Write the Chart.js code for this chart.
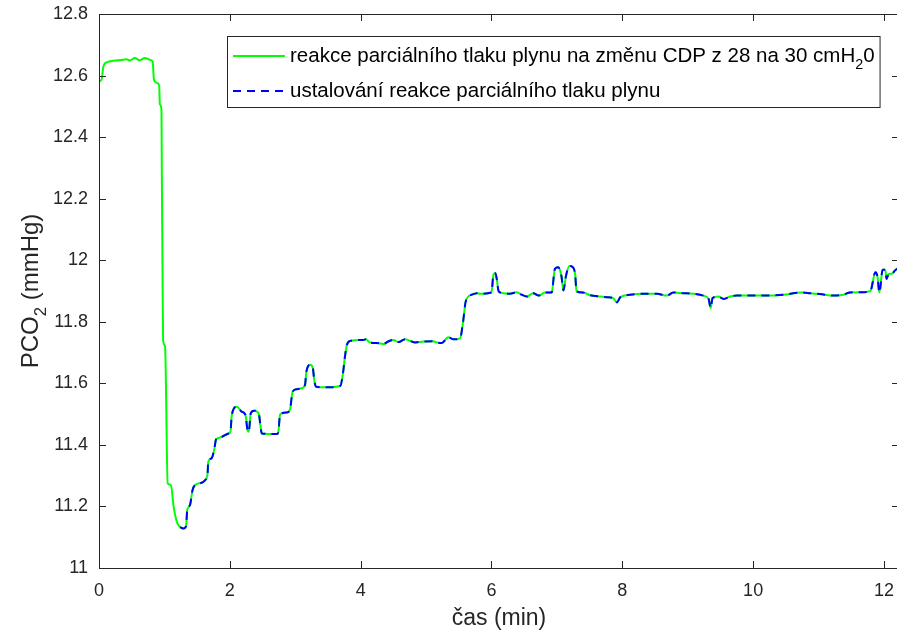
<!DOCTYPE html>
<html lang="cs">
<head>
<meta charset="UTF-8">
<title>PCO2 – reakce na změnu CDP</title>
<script src="https://cdn.jsdelivr.net/npm/chart.js"></script>
<style>
  html, body { margin: 0; padding: 0; background: #fff; overflow: hidden; }
  canvas { display: block; }
</style>
</head>
<body>
<canvas id="pco2Chart" width="900" height="632"></canvas>
<script>
// time (min)
const casMin = [
  0, 0.04, 0.07, 0.12, 0.22, 0.37, 0.42, 0.47, 0.55, 0.62,
  0.70, 0.78, 0.82, 0.84, 0.88, 0.92, 0.93, 0.955, 0.96, 0.97,
  0.98, 1.01, 1.05, 1.10, 1.14, 1.19, 1.24, 1.29, 1.33, 1.35,
  1.39, 1.43, 1.47, 1.57, 1.62, 1.66, 1.67, 1.72, 1.76, 1.79,
  1.85, 1.98, 2.01, 2.03, 2.11, 2.18, 2.24, 2.27, 2.29, 2.32,
  2.37, 2.44, 2.49, 2.72, 2.74, 2.77, 2.87, 2.92, 2.96, 3.02,
  3.10, 3.15, 3.17, 3.23, 3.27, 3.29, 3.32, 3.48, 3.69, 3.73,
  3.76, 3.79, 3.84, 4.04, 4.08, 4.14, 4.25, 4.35, 4.42, 4.50,
  4.58, 4.68, 4.83, 4.96, 5.11, 5.16, 5.24, 5.34, 5.42, 5.52,
  5.56, 5.61, 5.70, 5.78, 5.83, 6.00, 6.03, 6.06, 6.08, 6.11,
  6.18, 6.28, 6.39, 6.46, 6.54, 6.64, 6.72, 6.82, 6.92, 6.97,
  7.02, 7.07, 7.10, 7.14, 7.19, 7.24, 7.28, 7.30, 7.40, 7.51,
  7.66, 7.76, 7.86, 7.92, 7.97, 8.12, 8.32, 8.53, 8.68, 8.78,
  8.93, 9.09, 9.24, 9.32, 9.35, 9.38, 9.47, 9.55, 9.65, 9.75,
  9.95, 10.21, 10.46, 10.74, 10.87, 11.02, 11.23, 11.38, 11.48, 11.64,
  11.79, 11.87, 11.90, 11.93, 11.98, 12.02, 12.04, 12.07, 12.12, 12.17,
  12.20, 12.23
];
// PCO2 (mmHg)
const pco2 = [
  12.580, 12.588, 12.632, 12.643, 12.648, 12.651, 12.653, 12.649, 12.657, 12.650,
  12.657, 12.651, 12.645, 12.588, 12.577, 12.569, 12.507, 12.490, 12.300, 12.000,
  11.740, 11.720, 11.275, 11.270, 11.200, 11.150, 11.133, 11.128, 11.135, 11.190,
  11.204, 11.253, 11.270, 11.277, 11.285, 11.307, 11.345, 11.356, 11.383, 11.418,
  11.424, 11.437, 11.443, 11.497, 11.524, 11.508, 11.497, 11.448, 11.443, 11.503,
  11.511, 11.503, 11.437, 11.435, 11.440, 11.500, 11.505, 11.515, 11.573, 11.581,
  11.584, 11.595, 11.638, 11.660, 11.649, 11.611, 11.589, 11.587, 11.592, 11.633,
  11.687, 11.725, 11.738, 11.741, 11.743, 11.733, 11.731, 11.728, 11.736, 11.741,
  11.734, 11.743, 11.733, 11.736, 11.737, 11.733, 11.731, 11.750, 11.743, 11.746,
  11.790, 11.869, 11.888, 11.893, 11.891, 11.895, 11.953, 11.958, 11.940, 11.899,
  11.893, 11.891, 11.896, 11.888, 11.882, 11.893, 11.885, 11.895, 11.895, 11.972,
  11.977, 11.948, 11.902, 11.950, 11.981, 11.978, 11.953, 11.899, 11.895, 11.886,
  11.882, 11.880, 11.877, 11.863, 11.880, 11.888, 11.891, 11.891, 11.885, 11.895,
  11.893, 11.891, 11.885, 11.874, 11.845, 11.877, 11.882, 11.874, 11.882, 11.885,
  11.885, 11.885, 11.888, 11.895, 11.893, 11.890, 11.885, 11.888, 11.895, 11.896,
  11.899, 11.961, 11.948, 11.895, 11.969, 11.969, 11.939, 11.955, 11.956, 11.967,
  11.972, 11.975
];
// dashed "settling" trace begins at the minimum after the step
const ustaleniOd = 1.24;

const xTicks = [0, 2, 4, 6, 8, 10, 12];
const yTicks = [11, 11.2, 11.4, 11.6, 11.8, 12, 12.2, 12.4, 12.6, 12.8];

// '_x' marks a subscript character
const legendLabels = [
  'reakce parciálního tlaku plynu na změnu CDP z 28 na 30 cmH_20',
  'ustalování reakce parciálního tlaku plynu'
];
const xTitle = 'čas (min)';
const yTitle = 'PCO_2 (mmHg)';

const FONT = "'Liberation Sans', Arial, sans-serif";
const INK = '#262626';
const TICK_LEN = 7;

const zmena = casMin.map((t, i) => ({ x: t, y: pco2[i] }));
const ustaleni = zmena.filter(p => p.x >= ustaleniOd);

function richParts(text) {
  const parts = [];
  let buf = '';
  for (let i = 0; i < text.length; i++) {
    if (text[i] === '_' && i + 1 < text.length) {
      if (buf) parts.push({ t: buf, sub: false });
      buf = '';
      parts.push({ t: text[i + 1], sub: true });
      i++;
    } else {
      buf += text[i];
    }
  }
  if (buf) parts.push({ t: buf, sub: false });
  return parts;
}

function richWidth(ctx, text, size) {
  let w = 0;
  for (const p of richParts(text)) {
    ctx.font = (p.sub ? size * 0.7 : size) + 'px ' + FONT;
    w += ctx.measureText(p.t).width;
  }
  return w;
}

// left-aligned, y is the vertical middle of the normal text
function drawRich(ctx, text, x, y, size) {
  ctx.textBaseline = 'middle';
  ctx.textAlign = 'left';
  for (const p of richParts(text)) {
    const s = p.sub ? size * 0.7 : size;
    ctx.font = s + 'px ' + FONT;
    ctx.fillText(p.t, x, p.sub ? y + size * 0.42 : y);
    x += ctx.measureText(p.t).width;
  }
}

const matlabFrame = {
  id: 'matlabFrame',
  afterDraw(chart) {
    const { ctx, chartArea: a, scales } = chart;
    ctx.save();
    ctx.strokeStyle = INK;
    ctx.lineWidth = 1;
    ctx.strokeRect(Math.round(a.left) + 0.5, Math.round(a.top) + 0.5,
      Math.round(a.right - a.left), Math.round(a.bottom - a.top));
    ctx.beginPath();
    for (const v of xTicks) {
      const px = Math.round(scales.x.getPixelForValue(v)) + 0.5;
      ctx.moveTo(px, a.bottom); ctx.lineTo(px, a.bottom - TICK_LEN);
      ctx.moveTo(px, a.top); ctx.lineTo(px, a.top + TICK_LEN);
    }
    for (const v of yTicks) {
      const py = Math.round(scales.y.getPixelForValue(v)) + 0.5;
      ctx.moveTo(a.left, py); ctx.lineTo(a.left + TICK_LEN, py);
      ctx.moveTo(a.right, py); ctx.lineTo(a.right - TICK_LEN, py);
    }
    ctx.stroke();

    // y axis title, rotated
    ctx.fillStyle = INK;
    const ySize = 24;
    ctx.save();
    ctx.translate(31, (a.top + a.bottom) / 2);
    ctx.rotate(-Math.PI / 2);
    drawRich(ctx, yTitle, -richWidth(ctx, yTitle, ySize) / 2, 0, ySize);
    ctx.restore();

    // legend
    const size = 20.5;
    const boxL = 227, boxT = 36, rowH = 35;
    const textX = boxL + 63;
    const textW = Math.max(...legendLabels.map(l => richWidth(ctx, l, size)));
    const boxW = textX - boxL + textW + 5;
    const boxH = rowH * legendLabels.length + 1;
    ctx.fillStyle = '#fff';
    ctx.fillRect(boxL, boxT, boxW, boxH);
    ctx.strokeStyle = INK;
    ctx.strokeRect(boxL + 0.5, boxT + 0.5, boxW, boxH);
    chart.data.datasets.forEach((ds, i) => {
      const ry = boxT + 20 + i * rowH;
      ctx.save();
      ctx.strokeStyle = ds.borderColor;
      ctx.lineWidth = 2;
      ctx.setLineDash(ds.borderDash || []);
      ctx.beginPath();
      ctx.moveTo(boxL + 6, ry);
      ctx.lineTo(boxL + 58, ry);
      ctx.stroke();
      ctx.restore();
      ctx.fillStyle = '#000';
      drawRich(ctx, legendLabels[i], textX, ry, size);
    });
    ctx.restore();
  }
};

new Chart(document.getElementById('pco2Chart'), {
  type: 'line',
  data: {
    datasets: [
      {
        label: legendLabels[0],
        data: zmena,
        borderColor: '#00ff00',
        borderWidth: 2,
        pointRadius: 0,
        cubicInterpolationMode: 'monotone',
        order: 1
      },
      {
        label: legendLabels[1],
        data: ustaleni,
        borderColor: '#0000ff',
        borderWidth: 2,
        borderDash: [8, 6],
        pointRadius: 0,
        cubicInterpolationMode: 'monotone',
        order: 0
      }
    ]
  },
  options: {
    responsive: false,
    animation: false,
    events: [],
    layout: { padding: { top: 14, right: 1, left: 0, bottom: 0 } },
    plugins: {
      legend: { display: false },
      tooltip: { enabled: false }
    },
    scales: {
      x: {
        type: 'linear',
        min: 0,
        max: 12.23,
        afterBuildTicks: s => { s.ticks = xTicks.map(v => ({ value: v })); },
        afterFit: s => { s.height = 64; s.paddingLeft = 0; s.paddingRight = 0; },
        grid: { display: false, drawTicks: false },
        border: { display: false },
        ticks: {
          autoSkip: false,
          maxRotation: 0,
          padding: 12,
          color: INK,
          font: { family: FONT, size: 18 },
          callback: v => String(v)
        },
        title: {
          display: true,
          text: xTitle,
          color: INK,
          padding: 0,
          font: { family: FONT, size: 23 }
        }
      },
      y: {
        min: 11,
        max: 12.8,
        afterBuildTicks: s => { s.ticks = yTicks.map(v => ({ value: v })); },
        afterFit: s => { s.width = 99; s.paddingTop = 0; s.paddingBottom = 0; },
        grid: { display: false, drawTicks: false },
        border: { display: false },
        ticks: {
          padding: 11,
          color: INK,
          font: { family: FONT, size: 18 },
          callback: v => String(+v.toFixed(1))
        }
      }
    }
  },
  plugins: [matlabFrame]
});
</script>
</body>
</html>
